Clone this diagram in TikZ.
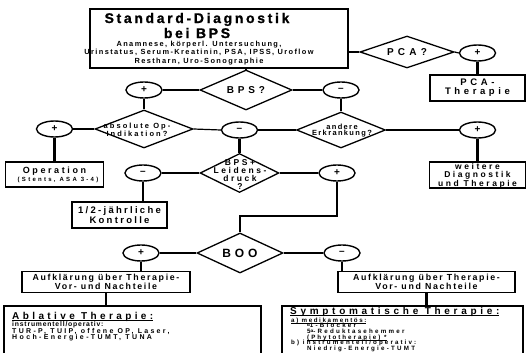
\documentclass[tikz,border=0pt]{standalone}
\usepackage{fontspec}
\setmainfont{Liberation Sans}
\usetikzlibrary{shapes.geometric}
\newcommand{\LS}[1]{\addfontfeatures{LetterSpace=#1}}
\newcommand{\fs}[2]{\fontsize{#1}{#2}\selectfont\bfseries}
\newcommand{\supA}{\raisebox{1.3pt}{\fontsize{4.5}{4.5}\selectfont α}}
\newcommand{\ulx}[1]{\setbox0\hbox{#1}\rlap{\rule[-1.0pt]{\wd0}{0.5pt}}\box0}
\begin{document}
\begin{tikzpicture}[x=1pt,y=-1pt,
  box/.style={draw, line width=1.8pt, inner sep=0pt, align=center},
  dia/.style={draw, diamond, line width=1.3pt, inner sep=0pt},
  pm/.style={draw, ellipse, line width=1.4pt, minimum width=36pt, minimum height=16pt, inner sep=0pt, font=\fs{10}{10}},
  lbl/.style={inner sep=0pt, align=center},
  line/.style={inner sep=0pt, anchor=mid west},
  hconn/.style={line width=1.2pt},
  vconn/.style={line width=2.3pt}]
\useasboundingbox (0,0) rectangle (528,353);
\fill[white] (0,0) rectangle (528,353);

% top box
\node[box, minimum width=258pt, minimum height=59pt] (top) at (219,38.5) {};
\node[lbl, font=\fs{14}{15}\addfontfeatures{LetterSpace=19,FakeBold=1}] (toptitle) at (197,25.5) {Standard-Diagnostik\\bei BPS};
\node[lbl, font=\fs{7.4}{8.5}\LS{19}] (topsmall) at (199,53) {Anamnese, körperl. Untersuchung,\\Urinstatus, Serum-Kreatinin, PSA, IPSS, Uroflow\\Restharn, Uro-Sonographie};

% diamonds
\node[dia, minimum width=94pt, minimum height=32pt] (pca) at (407,52) {};
\node[lbl, font=\fs{10}{10}\LS{42}] (pcal) at (pca) {PCA?};
\node[dia, minimum width=92pt, minimum height=40pt] (bps) at (246,90) {};
\node[lbl, font=\fs{10}{10}\LS{38}] (bpsl) at (bps) {BPS?};
\node[dia, minimum width=98pt, minimum height=38pt] (absop) at (144,129) {};
\node[lbl, font=\fs{7.5}{6.5}\LS{28}] (absopl) at (137,130) {absolute Op-\\Indikation?};
\node[dia, minimum width=89pt, minimum height=36pt] (andere) at (341,130) {};
\node[lbl, font=\fs{7.5}{6.5}\LS{18}] (anderel) at (342,130.5) {andere\\Erkrankung?};
\node[dia, minimum width=79pt, minimum height=39pt] (leid) at (239.5,173) {};
\node[lbl, font=\fs{8.5}{8}\LS{30}] (leidl) at (240,175) {BPS+\\Leidens-\\druck\\?};
\node[dia, minimum width=86pt, minimum height=40pt] (boo) at (240,253) {};
\node[lbl, font=\fs{12}{12}\LS{32}] (bool) at (boo) {BOO};

% plus / minus circles
\node[pm] (pcaP) at (477.5,53) {+};
\node[pm] (bpsP) at (144,90) {+};
\node[pm] (bpsM) at (341,90) {–};
\node[pm] (absP) at (54.5,129) {+};
\node[pm] (midM) at (239.5,130) {–};
\node[pm] (andP) at (477.5,130) {+};
\node[pm] (leidM) at (143,173) {–};
\node[pm] (leidP) at (337,173) {+};
\node[pm] (booP) at (141,253) {+};
\node[pm] (booM) at (342,253) {–};

% boxes
\node[box, minimum width=95pt, minimum height=26pt, font=\fs{9.5}{9}\LS{38}] (pcat) at (477.5,88) {PCA-\\Therapie};
\node[box, minimum width=98pt, minimum height=25pt] (oper) at (54.5,174.5) {};
\node[lbl, font=\fs{9}{9}\LS{29}] (operl) at (54.5,171.5) {Operation};
\node[lbl, font=\fs{6}{6}\LS{38}] (opers) at (58,179.5) {(Stents, ASA 3-4)};
\node[box, minimum width=96pt, minimum height=26pt] (weit) at (477.5,175) {};
\node[lbl, font=\fs{8.5}{7.8}\LS{30}] (weitl) at (477.5,175.5) {weitere\\Diagnostik\\und Therapie};
\node[box, minimum width=95pt, minimum height=26pt, font=\fs{9.5}{8.5}\LS{24}] (halb) at (119.5,215) {1/2-jährliche\\Kontrolle};
\node[box, minimum width=168pt, minimum height=21pt, font=\fs{8.8}{8}\LS{19}] (aufL) at (106,282) {Aufklärung über Therapie-\\Vor- und Nachteile};
\node[box, minimum width=177pt, minimum height=21pt, font=\fs{8.8}{8}\LS{19}] (aufR) at (426.5,282) {Aufklärung über Therapie-\\Vor- und Nachteile};
\node[box, minimum width=257pt, minimum height=52pt] (abl) at (132.5,332) {};
\node[box, minimum width=241pt, minimum height=52pt] (sym) at (402.5,332) {};

% Ablative text
\node[line, font=\fs{10}{10}\LS{34}] (abl1) at (12,316.5) {\ulx{Ablative Therapie:}};
\node[line, font=\fs{6.8}{6.5}\LS{12}] (abl2) at (12,324) {instrumentell/operativ:};
\node[line, font=\fs{7}{6.5}\LS{33}] (abl3) at (12,330.5) {TUR-P, TUIP, offene OP, Laser,};
\node[line, font=\fs{7}{6.5}\LS{34}] (abl4) at (12,337) {Hoch-Energie-TUMT, TUNA};

% Symptomatische text
\node[line, font=\fs{10}{10}\LS{37}] (sym1) at (290,312) {\ulx{Symptomatische Therapie:}};
\node[line, font=\fs{6.2}{6}\LS{26}] (sym2) at (291,319.5) {\ulx{a) medikamentös:}};
\node[line, font=\fs{6.2}{6}\LS{36}] (sym3) at (307,325.2) {\supA1-Blocker};
\node[line, font=\fs{6.2}{6}\LS{36}] (sym4) at (307,330.9) {5\supA-Reduktasehemmer};
\node[line, font=\fs{6.2}{6}\LS{32}] (sym5) at (307,336.6) {\ulx{(Phytotherapie) *}};
\node[line, font=\fs{6.2}{6}\LS{34}] (sym6) at (291,342.3) {b) instrumentell/operativ:};
\node[line, font=\fs{6.2}{6}\LS{36}] (sym7) at (307,348) {Niedrig-Energie-TUMT};

% connectors
\coordinate (kink) at (240,216);
\draw[vconn] (bps.north) -- (bps.north |- top.south);
\draw[hconn] (top.east |- pca.west) -- (pca.west);
\draw[hconn] (pca.east) -- (pcaP.west);
\draw[vconn] (pcaP.south) -- (pcat.north);
\draw[hconn] (bps.west) -- (bpsP.east);
\draw[hconn] (bps.east) -- (bpsM.west);
\draw[vconn] (bpsP.south) -- (absop.north);
\draw[vconn] (bpsM.south) -- (andere.north);
\draw[hconn] (absop.west) -- (absP.east);
\draw[vconn] (absP.south) -- (oper.north);
\draw[hconn] (absop.east) -- (midM.west);
\draw[hconn] (midM.east) -- (andere.west);
\draw[hconn] (andere.east) -- (andP.west);
\draw[vconn] (andP.south) -- (weit.north);
\draw[vconn] (midM.south) -- (leid.north);
\draw[hconn] (leid.west) -- (leidM.east);
\draw[vconn] (leidM.south) -- (leidM.south |- halb.north);
\draw[hconn] (leid.east) -- (leidP.west);
\draw[hconn] (leidP.south) |- (kink) -- (boo.north);
\draw[hconn] (boo.west) -- (booP.east);
\draw[hconn] (boo.east) -- (booM.west);
\draw[vconn] (booP.south) -- (booP.south |- aufL.north);
\draw[vconn] (booM.south) -- (booM.south |- aufR.north);
\draw[vconn] (aufL.south) -- (aufL.south |- abl.north);
\draw[vconn] (aufR.south) -- (aufR.south |- sym.north);
\end{tikzpicture}
\end{document}
